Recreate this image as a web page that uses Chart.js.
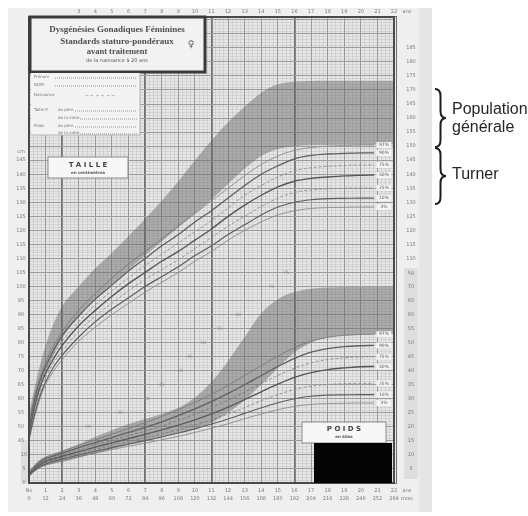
<!DOCTYPE html>
<html>
<head>
<meta charset="utf-8">
<script src="https://cdn.jsdelivr.net/npm/chart.js@4.4.1/dist/chart.umd.min.js"></script>
<style>
  html, body { margin: 0; padding: 0; background: #fff; }
</style>
</head>
<body>
<canvas id="chart" width="528" height="516"></canvas>
<script>
// ---- data ----
// ages in years for the Turner curves
const ages = [0, 0.25, 0.5, 0.75, 1, 1.5, 2, 3, 4, 5, 6, 7, 8, 9, 10, 11, 12, 13, 14, 15, 16, 17, 18, 19, 20, 20.8];

// Turner height percentiles (cm)
const height97 = [51, 58.5, 64.5, 69, 73, 79, 84, 91.5, 97.5, 103, 108, 112.5, 117, 121.5, 126, 130.5, 135, 139.5, 143.5, 146.5, 148.5, 149.5, 150, 150.2, 150.4, 150.4];
const height90 = [50, 57.5, 63.5, 68, 71.5, 77.5, 82.5, 89.5, 95.5, 100.5, 105.5, 110, 114.5, 118.5, 123, 127, 131.5, 136, 140, 143, 145.5, 146.7, 147.2, 147.4, 147.6, 147.6];
const height75 = [49, 56, 62, 66.5, 70, 76, 80.5, 87.5, 93.5, 98.5, 103, 107.5, 111.5, 115.5, 119.5, 123.5, 128, 132.5, 136, 139, 141.2, 142.3, 142.8, 143.1, 143.3, 143.3];
const height50 = [48, 55, 61, 65.5, 69, 74.5, 79, 86, 91.5, 96.5, 101, 105, 109, 112.5, 116.5, 120.5, 125, 129, 132.5, 135.5, 137.5, 138.5, 139, 139.4, 139.6, 139.7];
const height25 = [47, 54, 59.5, 64, 67.5, 73, 77, 84, 89.5, 94, 98.5, 102.5, 106, 109.5, 113.5, 117.5, 121.5, 125, 128.5, 131.5, 133.5, 134.4, 134.8, 135, 135.1, 135.1];
const height10 = [46, 52.5, 58, 62.5, 66, 71.5, 75.5, 82, 87.5, 92, 96, 100, 103.5, 107, 111, 114.5, 118.5, 122, 125.5, 128.3, 130, 130.9, 131.3, 131.4, 131.5, 131.5];
const height3 = [45, 51.5, 57, 61.5, 65, 70, 74, 80.5, 85.5, 90, 94, 98, 101.5, 105, 109, 112.5, 116.5, 120, 123, 125.5, 127, 127.8, 128.1, 128.2, 128.3, 128.3];

// Turner weight percentiles (kg)
const weight97 = [3.6, 5.5, 7, 8.2, 9.1, 10.3, 11.3, 13.4, 15.4, 17.4, 19.4, 21.5, 23.7, 26.1, 28.7, 31.6, 34.8, 38.3, 41.8, 45.2, 48.2, 50.5, 51.9, 52.6, 52.9, 53];
const weight90 = [3.4, 5.2, 6.6, 7.7, 8.6, 9.7, 10.6, 12.6, 14.4, 16.2, 18, 19.8, 21.8, 24, 26.4, 29, 31.9, 35, 38.3, 41.5, 44.4, 46.6, 47.9, 48.6, 48.9, 49];
const weight75 = [3.2, 4.9, 6.2, 7.3, 8.1, 9.2, 10, 11.9, 13.6, 15.2, 16.9, 18.5, 20.3, 22.3, 24.5, 26.9, 29.5, 32.4, 35.4, 38.3, 40.9, 42.8, 44, 44.6, 44.9, 45];
const weight50 = [3.0, 4.6, 5.9, 6.9, 7.7, 8.7, 9.5, 11.2, 12.8, 14.3, 15.8, 17.3, 18.9, 20.6, 22.5, 24.6, 27, 29.7, 32.5, 35.2, 37.6, 39.3, 40.4, 41, 41.4, 41.5];
const weight25 = [2.8, 4.3, 5.5, 6.5, 7.2, 8.2, 9, 10.5, 12, 13.4, 14.8, 16.1, 17.5, 19, 20.7, 22.5, 24.6, 26.9, 29.3, 31.5, 33.3, 34.5, 35.1, 35.4, 35.5, 35.5];
const weight10 = [2.6, 4.1, 5.2, 6.1, 6.8, 7.8, 8.5, 10, 11.3, 12.6, 13.9, 15.1, 16.4, 17.8, 19.3, 21, 22.8, 24.8, 26.8, 28.6, 30, 30.9, 31.3, 31.4, 31.5, 31.5];
const weight3 = [2.4, 3.8, 4.9, 5.8, 6.4, 7.3, 8, 9.4, 10.7, 11.9, 13.1, 14.2, 15.4, 16.6, 18, 19.5, 21.1, 22.9, 24.6, 26.1, 27.3, 28, 28.3, 28.4, 28.5, 28.5];

// general population bands (grey areas)
const bandAges = [0, 0.5, 1, 1.5, 2, 3, 4, 5, 6, 7, 8, 9, 10, 11, 12, 13, 14, 15, 16, 17, 18, 20, 22];
const popHeightHigh = [55, 68, 79, 87, 93, 100, 106.5, 112, 118, 124, 130.5, 137.5, 145, 152, 158.5, 164, 169, 172, 173, 173.2, 173.3, 173.3, 173.3];
const popHeightLow = [47, 60, 69, 76, 81.5, 89.5, 95.5, 101, 106, 111, 116, 121, 126, 131, 136.5, 142, 146.5, 149, 150, 150.3, 150.4, 150.5, 150.5];
const popWeightHigh = [4.1, 7.6, 9.4, 10.5, 11.5, 13.8, 16.5, 18.8, 21, 22.8, 24.6, 26.8, 30.5, 36, 43.5, 52, 60.5, 65.5, 68, 69.2, 69.6, 69.8, 69.8];
const popWeightLow = [2.5, 5, 6.2, 6.9, 7.5, 9, 10.5, 12, 13.5, 15, 16.4, 17.8, 19.2, 21.5, 25, 29.5, 35, 41, 46.5, 50, 51.8, 52.8, 53.2];

// percentile names
const percentiles = ['97%', '90%', '75%', '50%', '25%', '10%', '3%'];

// tick labels
const topAges = [3, 4, 5, 6, 7, 8, 9, 10, 11, 12, 13, 14, 15, 16, 17, 18, 19, 20, 21, 22];
const bottomAges = [0, 1, 2, 3, 4, 5, 6, 7, 8, 9, 10, 11, 12, 13, 14, 15, 16, 17, 18, 19, 20, 21, 22];
const leftHeightTicks = [145, 140, 135, 130, 125, 120, 115, 110, 105, 100, 95, 90, 85, 80, 75, 70, 65, 60, 55, 50, 45];
const leftWeightTicks = [10, 5, 0];
const rightHeightTicks = [185, 180, 175, 170, 165, 160, 155, 150, 145, 140, 135, 130, 125, 120, 115, 110];
const rightWeightTicks = [70, 65, 60, 55, 50, 45, 40, 35, 30, 25, 20, 15, 10, 5];
// weight figures printed along the diagonal
const diagWeightValues = [20, 25, 30, 35, 40, 45, 50, 55, 60, 70, 75];
const diagWeightAges = [3.55, 5.5, 7.1, 8.0, 9.1, 9.7, 10.5, 11.5, 12.6, 14.6, 15.5];

const thickYears = [2, 7, 11, 16];

function pts(xs, ys) {
    return xs.map((x, i) => ({ x: x, y: ys[i] }));
}

const heightSeries = [height97, height90, height75, height50, height25, height10, height3];
const weightSeries = [weight97, weight90, weight75, weight50, weight25, weight10, weight3];
const lineLook = [
    { c: '#8c8c8c', w: 0.9, d: [] },
    { c: '#5e5e5e', w: 1.3, d: [] },
    { c: '#8c8c8c', w: 0.9, d: [3, 2] },
    { c: '#555555', w: 1.4, d: [] },
    { c: '#8c8c8c', w: 0.9, d: [3, 2] },
    { c: '#5e5e5e', w: 1.2, d: [] },
    { c: '#8c8c8c', w: 0.9, d: [] }
];

const bandFill = 'rgba(100,100,100,0.45)';
const datasets = [
    { label: 'pop taille +', data: pts(bandAges, popHeightHigh), yAxisID: 'yH', fill: '+1',
      backgroundColor: bandFill, borderWidth: 0 },
    { label: 'pop taille -', data: pts(bandAges, popHeightLow), yAxisID: 'yH', fill: false, borderWidth: 0 },
    { label: 'pop poids +', data: pts(bandAges, popWeightHigh), yAxisID: 'yW', fill: '+1',
      backgroundColor: bandFill, borderWidth: 0 },
    { label: 'pop poids -', data: pts(bandAges, popWeightLow), yAxisID: 'yW', fill: false, borderWidth: 0 }
];
heightSeries.forEach((s, i) => {
    datasets.push({ label: 'taille ' + percentiles[i], data: pts(ages, s), yAxisID: 'yH', fill: false,
        borderColor: lineLook[i].c, borderWidth: lineLook[i].w, borderDash: lineLook[i].d });
});
weightSeries.forEach((s, i) => {
    datasets.push({ label: 'poids ' + percentiles[i], data: pts(ages, s), yAxisID: 'yW', fill: false,
        borderColor: lineLook[i].c, borderWidth: lineLook[i].w, borderDash: lineLook[i].d });
});

function txt(ctx, s, x, y, font, color, align) {
    ctx.font = font;
    ctx.fillStyle = color;
    ctx.textAlign = align || 'center';
    ctx.textBaseline = 'middle';
    ctx.fillText(s, x, y);
}

function brace(ctx, x, y1, y2, w) {
    const ym = (y1 + y2) / 2;
    const m = x + w / 2;
    ctx.beginPath();
    ctx.moveTo(x, y1);
    ctx.quadraticCurveTo(m, y1, m, y1 + 7);
    ctx.lineTo(m, ym - 7);
    ctx.quadraticCurveTo(m, ym, x + w, ym);
    ctx.quadraticCurveTo(m, ym, m, ym + 7);
    ctx.lineTo(m, y2 - 7);
    ctx.quadraticCurveTo(m, y2, x, y2);
    ctx.stroke();
}

// page background and everything printed round the curves
const sheet = {
    id: 'sheet',
    beforeDraw(chart) {
        const ctx = chart.ctx;
        const a = chart.chartArea;
        ctx.save();
        ctx.fillStyle = '#ffffff';
        ctx.fillRect(0, 0, chart.width, chart.height);
        ctx.fillStyle = '#efefef';
        ctx.fillRect(8, 8, 424, 504);
        ctx.fillStyle = '#e5e5e5';
        ctx.fillRect(419, 8, 13, 504);
        ctx.fillStyle = '#e6e6e6';
        ctx.fillRect(a.left, a.top, a.right - a.left, a.bottom - a.top);
        ctx.restore();
    },
    afterDraw(chart) {
        const ctx = chart.ctx;
        const a = chart.chartArea;
        const X = v => chart.scales.x.getPixelForValue(v);
        const YH = v => chart.scales.yH.getPixelForValue(v);
        const YW = v => chart.scales.yW.getPixelForValue(v);
        const tick = '5px "DejaVu Sans"';
        const grey = '#7a7a7a';
        ctx.save();

        // plot frame
        ctx.strokeStyle = '#4a4a4a';
        ctx.lineWidth = 2;
        ctx.strokeRect(a.left, a.top, a.right - a.left, a.bottom - a.top);
        ctx.lineWidth = 0.8;
        ctx.strokeRect(a.left - 0.5, a.top - 0.5, a.right - a.left + 3, a.bottom - a.top + 1);

        // percentile tags at the right end
        [[heightSeries, YH], [weightSeries, YW]].forEach(([series, Y]) => {
            series.forEach((s, i) => {
                const y = Y(s[s.length - 1]);
                ctx.fillStyle = 'rgba(246,246,246,0.92)';
                ctx.fillRect(X(21) - 1, y - 3, 15, 6);
                txt(ctx, percentiles[i], X(21) + 6.5, y, '4.5px "DejaVu Sans"', '#555', 'center');
            });
        });

        // diagonal weight figures
        diagWeightValues.forEach((v, i) => {
            txt(ctx, String(v), X(diagWeightAges[i]), YW(v), '4.5px "DejaVu Sans"', '#888', 'center');
        });

        // title box
        ctx.fillStyle = '#f2f2f2';
        ctx.fillRect(30, 17, 175, 55);
        ctx.strokeStyle = '#3a3a3a';
        ctx.lineWidth = 3;
        ctx.strokeRect(30, 17, 175, 55);
        txt(ctx, 'Dysgénésies Gonadiques Féminines', 117, 30, 'bold 9px "Liberation Serif"', '#505050');
        txt(ctx, 'Standards staturo-pondéraux', 117, 42, 'bold 9px "Liberation Serif"', '#505050');
        txt(ctx, 'avant traitement', 117, 52, 'bold 8.5px "Liberation Serif"', '#505050');
        txt(ctx, 'de la naissance à 20 ans', 117, 61, '5px "DejaVu Sans"', '#555');
        txt(ctx, '♀', 191, 45, '9px "DejaVu Sans"', '#555');

        // patient identity box
        ctx.fillStyle = '#f3f3f3';
        ctx.fillRect(31, 73, 109, 62);
        ctx.strokeStyle = '#b5b5b5';
        ctx.lineWidth = 1;
        ctx.beginPath();
        ctx.moveTo(140, 73); ctx.lineTo(140, 135); ctx.lineTo(31, 135);
        ctx.stroke();
        const f4 = '4px "DejaVu Sans"';
        txt(ctx, 'Prénom', 34, 77, f4, '#777', 'left');
        txt(ctx, 'NOM', 34, 85, f4, '#777', 'left');
        txt(ctx, 'Naissance', 34, 95, f4, '#777', 'left');
        txt(ctx, 'Taille P.', 34, 110, f4, '#777', 'left');
        txt(ctx, 'du père', 58, 110, f4, '#777', 'left');
        txt(ctx, 'de la mère', 58, 118, f4, '#777', 'left');
        txt(ctx, 'Poids', 34, 126, f4, '#777', 'left');
        txt(ctx, 'du père', 58, 126, f4, '#777', 'left');
        txt(ctx, 'de la mère', 58, 133, f4, '#777', 'left');
        ctx.setLineDash([1, 1]);
        ctx.strokeStyle = '#999';
        [[55, 78], [55, 86], [75, 111], [80, 119], [75, 127], [80, 134]].forEach(([x0, y]) => {
            ctx.beginPath(); ctx.moveTo(x0, y); ctx.lineTo(137, y); ctx.stroke();
        });
        ctx.setLineDash([]);
        txt(ctx, '⌐ ¬  ⌐ ¬  ⌐ ¬', 100, 96, f4, '#888', 'center');

        // TAILLE box
        ctx.fillStyle = '#f7f7f7';
        ctx.fillRect(48, 157, 80, 21);
        ctx.strokeStyle = '#8a8a8a';
        ctx.lineWidth = 1;
        ctx.strokeRect(48, 157, 80, 21);
        txt(ctx, 'T A I L L E', 88, 165, 'bold 7px "DejaVu Sans"', '#444');
        txt(ctx, 'en centimètres', 88, 173, 'bold 4px "DejaVu Sans"', '#555');

        // POIDS box and black label
        ctx.fillStyle = '#f7f7f7';
        ctx.fillRect(302, 422, 84, 21);
        ctx.strokeRect(302, 422, 84, 21);
        txt(ctx, 'P O I D S', 344, 429, 'bold 7px "DejaVu Sans"', '#444');
        txt(ctx, 'en kilos', 344, 437, 'bold 4px "DejaVu Sans"', '#555');
        ctx.fillStyle = '#050505';
        ctx.fillRect(314, 443, 78, 40);

        // side strips for the weight scales
        ctx.fillStyle = '#dedede';
        ctx.fillRect(404, 268, 14, 211);
        ctx.fillRect(21, 440, 7, 43);

        // tick labels: top
        topAges.forEach(v => txt(ctx, String(v), X(v), 12, tick, grey));
        txt(ctx, 'ans', 407, 12, tick, grey);
        // bottom: years and months
        bottomAges.forEach(v => {
            txt(ctx, v === 0 ? 'Ns' : String(v), X(v), 491, tick, grey);
            txt(ctx, String(v * 12), X(v), 499, tick, grey);
        });
        txt(ctx, 'ans', 407, 491, tick, grey);
        txt(ctx, 'mois', 407, 499, tick, grey);
        // left
        txt(ctx, 'cm', 21, 152, tick, grey);
        leftHeightTicks.forEach(v => txt(ctx, String(v), 21, YH(v), tick, grey));
        leftWeightTicks.forEach(v => txt(ctx, String(v), 24, YW(v), tick, grey));
        // right
        rightHeightTicks.forEach(v => txt(ctx, String(v), 411, YH(v), tick, grey));
        txt(ctx, 'kg', 411, 273, tick, grey);
        rightWeightTicks.forEach(v => txt(ctx, String(v), 411, YW(v), tick, grey));

        // annotations beside the sheet
        const big = '16px "Liberation Sans"';
        txt(ctx, 'Population', 452, 110, big, '#262626', 'left');
        txt(ctx, 'générale', 452, 128, big, '#262626', 'left');
        txt(ctx, 'Turner', 452, 175, big, '#262626', 'left');
        ctx.strokeStyle = '#1e1e1e';
        ctx.lineWidth = 2;
        brace(ctx, 435, 89, 147, 11);
        brace(ctx, 435, 148, 204, 11);

        ctx.restore();
    }
};

new Chart(document.getElementById('chart'), {
    type: 'line',
    data: { datasets: datasets },
    options: {
        responsive: false,
        animation: false,
        devicePixelRatio: 1,
        layout: { padding: { left: 29, top: 17, right: 134, bottom: 33 } },
        elements: {
            point: { radius: 0 },
            line: { tension: 0.4, cubicInterpolationMode: 'monotone' }
        },
        plugins: { legend: { display: false }, tooltip: { enabled: false } },
        scales: {
            x: {
                type: 'linear', min: 0, max: 22,
                border: { display: false },
                ticks: { display: false, stepSize: 0.25, autoSkip: false },
                grid: {
                    drawTicks: false,
                    color: c => {
                        const v = c.tick.value;
                        if (Number.isInteger(v)) return thickYears.includes(v) ? '#6e6e6e' : '#9a9a9a';
                        return 'rgba(150,150,150,0.45)';
                    },
                    lineWidth: c => {
                        const v = c.tick.value;
                        if (Number.isInteger(v)) return thickYears.includes(v) ? 1.8 : 1;
                        return 0.5;
                    }
                }
            },
            yH: {
                type: 'linear', position: 'left', min: 30, max: 196,
                border: { display: false },
                ticks: { display: false, stepSize: 1, autoSkip: false },
                grid: {
                    drawTicks: false,
                    color: c => (c.tick.value % 5 === 0 ? '#9c9c9c' : 'rgba(150,150,150,0.4)'),
                    lineWidth: c => (c.tick.value % 5 === 0 ? 1 : 0.5)
                }
            },
            yW: {
                type: 'linear', position: 'right', min: 0, max: 166,
                border: { display: false },
                ticks: { display: false },
                grid: { display: false, drawTicks: false }
            }
        }
    },
    plugins: [sheet]
});
</script>
</body>
</html>
